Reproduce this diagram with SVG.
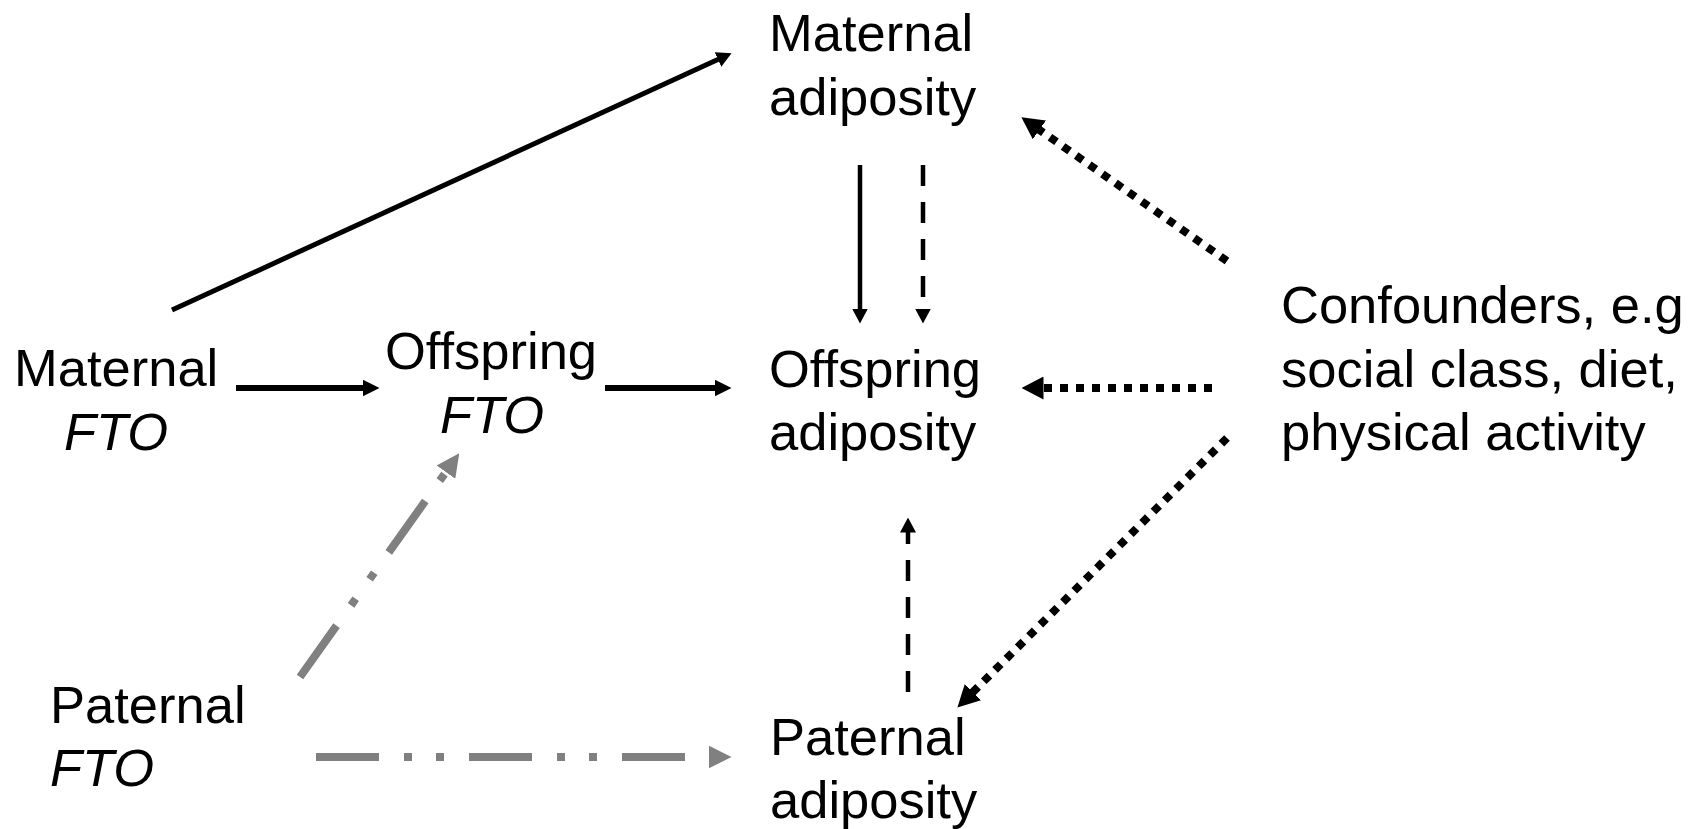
<svg xmlns="http://www.w3.org/2000/svg" width="1700" height="829" viewBox="0 0 1700 829">
<style>
text{font-family:"Liberation Sans",Arial,sans-serif;font-size:52.5px;fill:#000}
.it{font-style:italic}
.c{stroke:#000;fill:none}
.thin{stroke-width:4.5}
.diag{stroke-width:5}
.bold{stroke-width:6}
.dash{stroke-width:4.5;stroke-dasharray:21 16}
.dot{stroke-width:8;stroke-dasharray:8 8}
.gray{stroke:#808080;stroke-width:8;fill:none;stroke-dasharray:63 25 8 24 8 25}
</style>
<defs>
<marker id="mThin" markerUnits="userSpaceOnUse" viewBox="0 0 15 16" markerWidth="15" markerHeight="16" refX="0.5" refY="8" orient="auto"><path d="M0,0 L15,8 L0,16 z" fill="#000"/></marker>
<marker id="mBold" markerUnits="userSpaceOnUse" viewBox="0 0 17 17" markerWidth="17" markerHeight="17" refX="0.5" refY="8.5" orient="auto"><path d="M0,0 L17,8.5 L0,17 z" fill="#000"/></marker>
<marker id="mDot" markerUnits="userSpaceOnUse" viewBox="0 0 22 23" markerWidth="22" markerHeight="23" refX="0.5" refY="11.5" orient="auto"><path d="M0,0 L22,11.5 L0,23 z" fill="#000"/></marker>
<marker id="mGray" markerUnits="userSpaceOnUse" viewBox="0 0 23 23" markerWidth="23" markerHeight="23" refX="0.5" refY="11.5" orient="auto"><path d="M0,0 L23,11.5 L0,23 z" fill="#808080"/></marker>
</defs>
<g id="connectors">
<path class="c diag" d="M172,310 L718.4,59.3" marker-end="url(#mThin)"/>
<path class="c bold" d="M236,388 L363,388" marker-end="url(#mBold)"/>
<path class="c bold" d="M605,388 L715,388" marker-end="url(#mBold)"/>
<path class="c thin" d="M860,165 L860,309" marker-end="url(#mThin)"/>
<path class="c dash" d="M923,165 L923,309" marker-end="url(#mThin)"/>
<path class="c dash" d="M908,692 L908,532" marker-end="url(#mThin)"/>
<path class="c dot" d="M1212,388 L1043,388" marker-end="url(#mDot)"/>
<path class="c dot" d="M1227,261 L1039,129.6" marker-end="url(#mDot)"/>
<path class="c dot" d="M1227,438 L972.6,692.4" marker-end="url(#mDot)"/>
<path class="gray" d="M300,677 L446.2,471.7" marker-end="url(#mGray)"/>
<path class="gray" d="M316,757 L709,757" marker-end="url(#mGray)"/>
</g>
<g id="maternal-adiposity"><text x="769" y="51">Maternal</text><text x="769" y="115">adiposity</text></g>
<g id="offspring-adiposity"><text x="769" y="387">Offspring</text><text x="769" y="450">adiposity</text></g>
<g id="paternal-adiposity"><text x="770" y="755">Paternal</text><text x="770" y="818">adiposity</text></g>
<g id="confounders"><text x="1281" y="323">Confounders, e.g</text><text x="1281" y="387">social class, diet,</text><text x="1281" y="450">physical activity</text></g>
<g id="maternal-fto"><text x="14" y="386">Maternal</text><text class="it" x="116" y="450" text-anchor="middle">FTO</text></g>
<g id="offspring-fto"><text x="385" y="369">Offspring</text><text class="it" x="492" y="433" text-anchor="middle">FTO</text></g>
<g id="paternal-fto"><text x="50" y="723">Paternal</text><text class="it" x="50" y="786">FTO</text></g>
</svg>
